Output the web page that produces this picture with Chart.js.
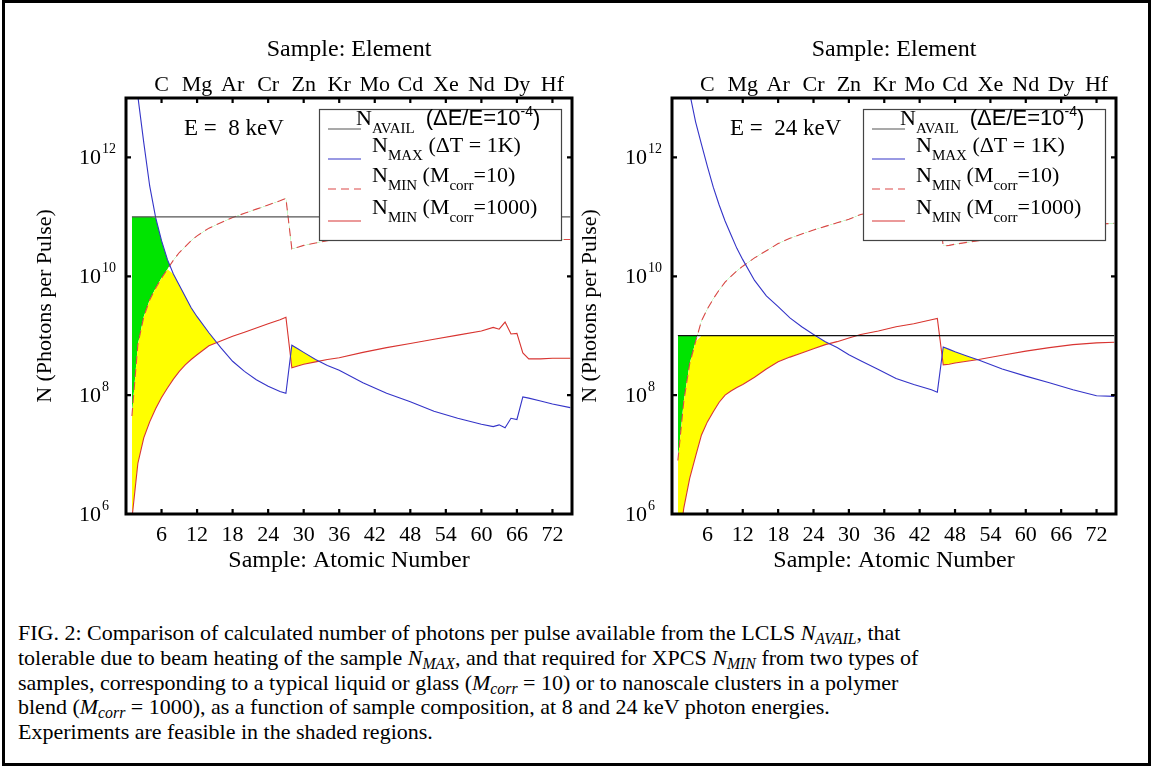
<!DOCTYPE html>
<html>
<head>
<meta charset="utf-8">
<script src="https://cdn.jsdelivr.net/npm/chart.js@4.4.0/dist/chart.umd.min.js"></script>
<style>
  html, body { margin: 0; padding: 0; background: #fff; }
  #page { position: relative; width: 1153px; height: 767px; overflow: hidden; background: #fff; }
  #frame { position: absolute; left: 2px; top: 0; width: 1149px; height: 766px; border: 3px solid #000; box-sizing: border-box; }
  canvas { position: absolute; top: 0; }
  #c8 { left: 0; }
  #c24 { left: 576px; }
  #caption {
    position: absolute; left: 18px; top: 621px;
    font-family: 'Liberation Serif', 'Times New Roman', serif;
    font-size: 22px; line-height: 24.75px; color: #000; white-space: nowrap;
  }
  #caption sub { font-size: 0.72em; vertical-align: -0.28em; line-height: 0; }
</style>
</head>
<body>
<div id="page">
  <canvas id="c8" width="576" height="600"></canvas>
  <canvas id="c24" width="577" height="600"></canvas>
  <div id="caption">FIG. 2: Comparison of calculated number of photons per pulse available from the LCLS <i>N<sub>AVAIL</sub></i>, that<br>tolerable due to beam heating of the sample <i>N<sub>MAX</sub></i>, and that required for XPCS <i>N<sub>MIN</sub></i> from two types of<br>samples, corresponding to a typical liquid or glass (<i>M<sub>corr</sub></i> = 10) or to nanoscale clusters in a polymer<br>blend (<i>M<sub>corr</sub></i> = 1000), as a function of sample composition, at 8 and 24 keV photon energies.<br>Experiments are feasible in the shaded regions.</div>
  <div id="frame"></div>
</div>
<script>
const SERIF = "'Liberation Serif', 'Times New Roman', serif";
const SANS = "'Liberation Sans', Arial, sans-serif";

// Colores
const BLUE = "#3434c8";
const RED = "#d83434";
const RED_DASH = "#dc4848";
const GREEN = "#00e400";
const YELLOW = "#ffff00";

// Ejes
const xTicks = [6, 12, 18, 24, 30, 36, 42, 48, 54, 60, 66, 72];
const elementTicks = ["C", "Mg", "Ar", "Cr", "Zn", "Kr", "Mo", "Cd", "Xe", "Nd", "Dy", "Hf"];
const yTickExps = [6, 8, 10, 12];

// E = 8 keV  (valores en log10 de fotones por pulso)
const z8 = [1, 2, 3, 4, 5, 6, 7, 8, 9, 10, 11, 12, 14, 16, 18, 20, 22, 24, 26, 27, 28, 29, 30, 32, 34, 36,
  40, 44, 48, 52, 56, 60, 62, 63, 64, 65, 66, 67, 68, 70, 72, 75];
const logNMax8 = [14.5, 13.03, 12.25, 11.52, 10.99, 10.6, 10.28, 10.04, 9.85, 9.66, 9.47, 9.32,
  9.05, 8.8, 8.57, 8.4, 8.26, 8.15, 8.06, 8.03, 8.84, 8.78, 8.72, 8.6, 8.5, 8.42,
  8.21, 8.03, 7.89, 7.73, 7.61, 7.51, 7.47, 7.5, 7.45, 7.61, 7.59, 7.97, 7.95, 7.9, 7.85, 7.79];
const logNMin10_8 = [7.65, 8.85, 9.32, 9.6, 9.8, 9.97, 10.12, 10.27, 10.4, 10.5, 10.6, 10.68,
  10.81, 10.9, 10.99, 11.06, 11.13, 11.2, 11.27, 11.31, 10.46, 10.49, 10.52, 10.56, 10.6, 10.63,
  10.72, 10.8, 10.87, 10.94, 11.01, 11.08, 11.14, 11.11, 11.23, 11.03, 11.04, 10.71, 10.61, 10.61, 10.62, 10.62];
const logNMin1000_8 = [5.92, 6.85, 7.28, 7.55, 7.77, 7.96, 8.12, 8.27, 8.4, 8.51, 8.6, 8.68,
  8.83, 8.91, 8.99, 9.06, 9.13, 9.2, 9.27, 9.31, 8.46, 8.49, 8.52, 8.56, 8.6, 8.63,
  8.72, 8.8, 8.87, 8.94, 9.01, 9.08, 9.14, 9.11, 9.23, 9.03, 9.04, 8.71, 8.61, 8.61, 8.62, 8.62];
const logNAvail8 = 11;

// E = 24 keV
const z24 = [1, 2, 3, 4, 5, 6, 7, 8, 9, 10, 11, 12, 14, 16, 18, 20, 22, 24, 26, 28, 30, 32,
  35, 38, 41, 44, 45, 46, 47, 48, 50, 52, 56, 60, 64, 68, 72, 75];
const logNMax24 = [15.0, 13.8, 13.08, 12.6, 12.22, 11.85, 11.5, 11.2, 10.93, 10.7, 10.47, 10.28,
  9.93, 9.67, 9.49, 9.3, 9.15, 9.02, 8.9, 8.8, 8.68, 8.58,
  8.43, 8.28, 8.18, 8.09, 8.05, 8.81, 8.77, 8.73, 8.66, 8.59, 8.44, 8.32, 8.21, 8.09, 7.99, 7.98];
const logNMin10_24 = [6.9, 7.9, 8.53, 8.9, 9.25, 9.45, 9.62, 9.77, 9.9, 10.0, 10.09, 10.17,
  10.31, 10.43, 10.55, 10.64, 10.71, 10.78, 10.84, 10.9, 10.96, 11.04,
  11.1, 11.16, 11.21, 11.26, 11.28, 10.51, 10.52, 10.54, 10.57, 10.6, 10.67, 10.74, 10.8, 10.85, 10.88, 10.89];
const logNMin1000_24 = [5.3, 6.1, 6.6, 6.97, 7.33, 7.55, 7.72, 7.88, 8.0, 8.07, 8.13, 8.18,
  8.3, 8.44, 8.56, 8.64, 8.71, 8.78, 8.85, 8.9, 8.96, 9.02,
  9.08, 9.15, 9.2, 9.27, 9.29, 8.51, 8.52, 8.54, 8.57, 8.6, 8.67, 8.74, 8.8, 8.85, 8.88, 8.89];
const logNAvail24 = 9;

// Leyenda: [texto, estilo]
const legendRows = [
  [["N"], ["AVAIL", "sub"], ["  "], ["(\u0394E/E=10", "sans"], ["-4", "sup"], [")", "sans"]],
  [["N"], ["MAX", "sub"], [" (\u0394T = 1K)"]],
  [["N"], ["MIN", "sub"], [" (M"], ["corr", "sub"], ["=10)"]],
  [["N"], ["MIN", "sub"], [" (M"], ["corr", "sub"], ["=1000)"]]
];
const legendColors = ["#555", BLUE, RED_DASH, RED];
const legendDash = [[], [], [8, 5], []];
const legendRowY = [20, 50, 80, 112];
// la primera fila esta algo desplazada a la izquierda y arriba
const legendTextX = [37, 53, 53, 53];
const legendTextDy = [-4, -7, -7, -7];

function pts(z, logs) {
  return z.map((x, i) => ({ x, y: Math.pow(10, logs[i]) }));
}

function buildDatasets(z, logMax, logMin10, logMin1000, logAvail, availColor) {
  const avail = z.map(x => ({ x, y: Math.pow(10, logAvail) }));
  // techo para cada zona sombreada
  const capGreen = z.map((x, i) => ({ x, y: Math.pow(10, Math.min(logMax[i], logAvail)) }));
  const capYellow = z.map((x, i) => ({ x, y: Math.pow(10, Math.min(logMax[i], logAvail, logMin10[i])) }));
  return [
    { data: avail, borderColor: availColor, borderWidth: 1.3 },
    { data: pts(z, logMax), borderColor: BLUE, borderWidth: 1.1 },
    { data: pts(z, logMin10), borderColor: RED_DASH, borderWidth: 1.1, borderDash: [8, 5] },
    { data: pts(z, logMin1000), borderColor: RED, borderWidth: 1.1 },
    { data: capGreen, borderColor: "transparent", borderWidth: 0, fill: { target: 2, above: GREEN, below: "transparent" } },
    { data: capYellow, borderColor: "transparent", borderWidth: 0, fill: { target: 3, above: YELLOW, below: "transparent" } }
  ];
}

function drawRich(ctx, segs, x, y) {
  segs.forEach(([t, st]) => {
    let font = `22px ${SERIF}`, dy = 0;
    if (st === "sub") { font = `15px ${SERIF}`; dy = 8; }
    if (st === "sans") { font = `22px ${SANS}`; }
    if (st === "sup") { font = `14px ${SANS}`; dy = -9; }
    ctx.font = font;
    ctx.fillText(t, x, y + dy);
    x += ctx.measureText(t).width;
  });
}

function overlayPlugin(energyText) {
  return {
    id: "overlay",
    afterDraw(chart) {
      const { ctx, chartArea: a, scales: { y } } = chart;
      ctx.save();

      // leyenda
      const bx = a.right - 253, by = 109, bw = 242, bh = 131;
      ctx.fillStyle = "#fff";
      ctx.fillRect(bx, by, bw, bh);
      ctx.strokeStyle = "#444";
      ctx.lineWidth = 1.2;
      ctx.strokeRect(bx + 0.5, by + 0.5, bw, bh);
      legendRows.forEach((row, i) => {
        const ly = by + legendRowY[i];
        ctx.strokeStyle = legendColors[i];
        ctx.lineWidth = 1.2;
        ctx.setLineDash(legendDash[i]);
        ctx.beginPath();
        ctx.moveTo(bx + 9, ly);
        ctx.lineTo(bx + 42, ly);
        ctx.stroke();
        ctx.setLineDash([]);
      });
      ctx.fillStyle = "#000";
      ctx.textAlign = "left";
      ctx.textBaseline = "alphabetic";
      legendRows.forEach((row, i) => {
        drawRich(ctx, row, bx + legendTextX[i], by + legendRowY[i] + legendTextDy[i]);
      });

      // texto de energia
      ctx.fillStyle = "#000";
      ctx.font = `23px ${SERIF}`;
      ctx.textAlign = "left";
      ctx.textBaseline = "alphabetic";
      ctx.fillText(energyText, a.left + 58, 135);

      // etiquetas del eje y con exponente
      yTickExps.forEach(e => {
        const py = y.getPixelForValue(Math.pow(10, e));
        ctx.font = `22px ${SERIF}`;
        ctx.textAlign = "right";
        ctx.textBaseline = "middle";
        ctx.fillText("10", a.left - 25, py + 1);
        ctx.font = `14px ${SERIF}`;
        ctx.textAlign = "left";
        ctx.textBaseline = "alphabetic";
        ctx.fillText(String(e), a.left - 24, py - 4);
      });

      // marco y marcas hacia dentro
      ctx.strokeStyle = "#000";
      ctx.lineWidth = 2.2;
      ctx.beginPath();
      xTicks.forEach(v => {
        const px = chart.scales.x.getPixelForValue(v);
        ctx.moveTo(px, a.bottom); ctx.lineTo(px, a.bottom - 5);
        ctx.moveTo(px, a.top); ctx.lineTo(px, a.top + 5);
      });
      yTickExps.forEach(e => {
        const py = y.getPixelForValue(Math.pow(10, e));
        ctx.moveTo(a.left, py); ctx.lineTo(a.left + 5, py);
        ctx.moveTo(a.right, py); ctx.lineTo(a.right - 5, py);
      });
      ctx.stroke();
      ctx.lineWidth = 3;
      ctx.strokeRect(a.left, a.top, a.right - a.left, a.bottom - a.top);
      ctx.restore();
    }
  };
}

function makeChart(id, datasets, leftW, rightW, yTitlePad, energyText) {
  const canvas = document.getElementById(id);
  const xTickBuild = s => { s.ticks = xTicks.map(v => ({ value: v })); };
  const yTickBuild = s => { s.ticks = yTickExps.map(e => ({ value: Math.pow(10, e) })); };
  const tickFont = { family: SERIF, size: 22 };
  const titleFont = { family: SERIF, size: 24 };
  return new Chart(canvas.getContext("2d"), {
    type: "line",
    data: { datasets },
    options: {
      responsive: false,
      animation: false,
      events: [],
      layout: { padding: 0 },
      elements: { point: { radius: 0 }, line: { tension: 0 } },
      plugins: { legend: { display: false }, tooltip: { enabled: false } },
      scales: {
        x: {
          type: "linear", position: "bottom", min: 0, max: 75.3,
          afterBuildTicks: xTickBuild,
          afterFit: s => { s.height = 86; },
          grid: { display: false, drawTicks: false },
          border: { display: false },
          ticks: { font: tickFont, color: "#000", padding: 8, maxRotation: 0, autoSkip: false },
          title: { display: true, text: "Sample: Atomic Number", font: titleFont, color: "#000", padding: { top: 0, bottom: 25 } }
        },
        x2: {
          type: "linear", position: "top", min: 0, max: 75.3,
          afterBuildTicks: xTickBuild,
          afterFit: s => { s.height = 98; },
          grid: { display: false, drawTicks: false },
          border: { display: false },
          ticks: { font: tickFont, color: "#000", padding: 0, maxRotation: 0, autoSkip: false,
            callback: v => elementTicks[xTicks.indexOf(v)] },
          title: { display: true, text: "Sample: Element", font: titleFont, color: "#000", padding: { top: 35, bottom: 0 } }
        },
        y: {
          type: "logarithmic", position: "left", min: 1e6, max: 1e13,
          afterBuildTicks: yTickBuild,
          afterFit: s => { s.width = leftW; },
          grid: { display: false, drawTicks: false },
          border: { display: false },
          ticks: { display: false },
          title: { display: true, text: "N (Photons per Pulse)", font: { family: SERIF, size: 22 }, color: "#000",
            padding: { top: yTitlePad, bottom: 0 } }
        },
        y2: {
          type: "logarithmic", position: "right", min: 1e6, max: 1e13,
          afterBuildTicks: yTickBuild,
          afterFit: s => { s.width = rightW; },
          grid: { display: false, drawTicks: false },
          border: { display: false },
          ticks: { display: false }
        }
      }
    },
    plugins: [overlayPlugin(energyText)]
  });
}

function createCharts() {
  makeChart("c8", buildDatasets(z8, logNMax8, logNMin10_8, logNMin1000_8, logNAvail8, "#555"),
    126, 4, 32, "E =  8 keV");
  makeChart("c24", buildDatasets(z24, logNMax24, logNMin10_24, logNMin1000_24, logNAvail24, "#111"),
    96, 37, 1, "E =  24 keV");
}

window.addEventListener("load", createCharts);
</script>
</body>
</html>
